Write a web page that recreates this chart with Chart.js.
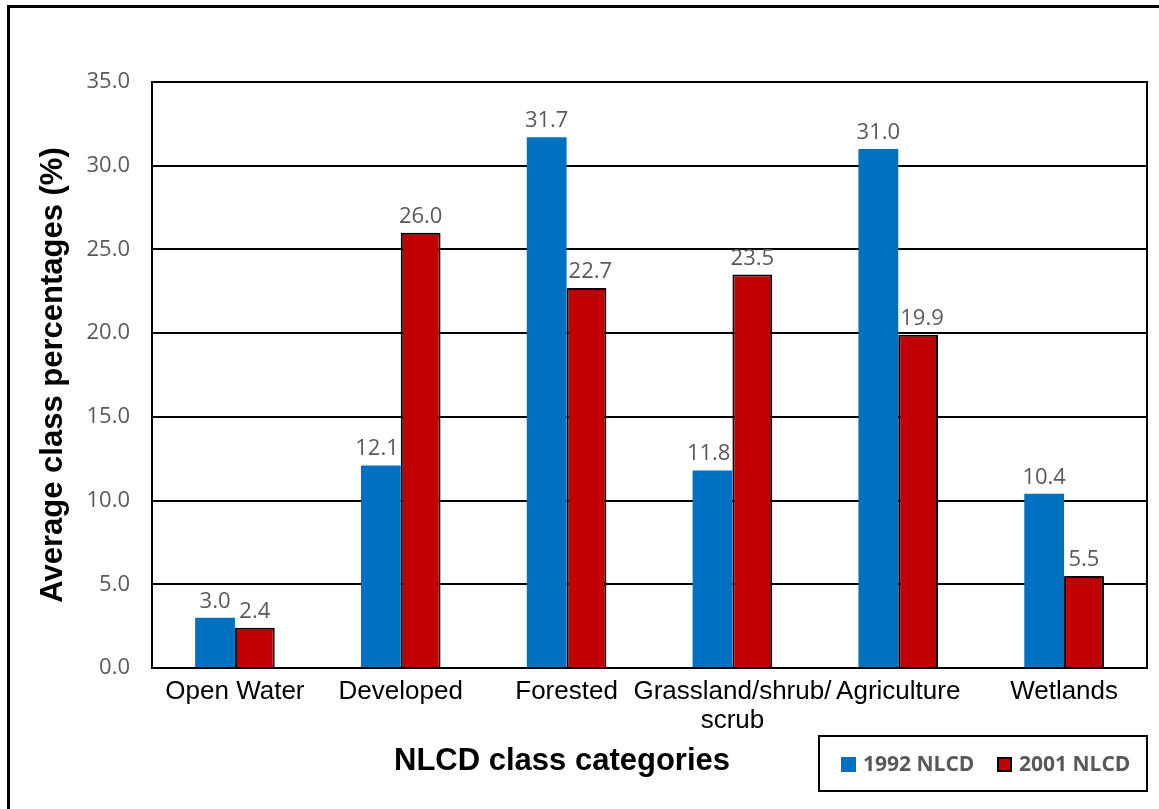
<!DOCTYPE html>
<html lang="en">
<head>
<meta charset="UTF-8">
<title>NLCD class categories</title>
<style>
  body { margin: 0; width: 1159px; height: 809px; overflow: hidden; position: relative; background: #fff; }
  #frame { position: absolute; left: 7px; top: 5px; width: 1300px; height: 1000px; border: 3px solid #000; }
  #wrap { position: absolute; left: 0; top: 0; width: 1159px; height: 809px; }
  #xtitle { position: absolute; left: 0; width: 1124px; top: 742px; line-height: 36px; text-align: center;
            font: bold 31px "Liberation Sans", Arial, sans-serif; color: #000; }
  #legend { position: absolute; left: 818px; top: 735px; width: 330px; height: 57px; box-sizing: border-box;
            border: 2px solid #000; font: bold 21px "Open Sans", sans-serif; color: #595959; }
  .item { position: absolute; top: 0; height: 53px; line-height: 53px; }
  .sw { position: absolute; top: 20px; width: 15px; height: 15px; box-sizing: border-box; }
</style>
</head>
<body>
<script src="https://cdn.jsdelivr.net/npm/chart.js"></script>
<div id="frame"></div>
<div id="wrap"><canvas id="myChart" width="1159" height="809"></canvas></div>
<div id="xtitle">NLCD class categories</div>
<div id="legend">
  <div class="item" style="left:21px"><span class="sw" style="left:0;background:#0070C0"></span><span style="margin-left:22px">1992 NLCD</span></div>
  <div class="item" style="left:177px"><span class="sw" style="left:0;background:#C00000;border:2px solid #000"></span><span style="margin-left:22px">2001 NLCD</span></div>
</div>

<script>
  // data
  const categories = ['Open Water', 'Developed', 'Forested', ['Grassland/shrub/', 'scrub'], 'Agriculture', 'Wetlands'];
  const nlcd1992 = [3.0, 12.1, 31.7, 11.8, 31.0, 10.4];
  const nlcd2001 = [2.4, 26.0, 22.7, 23.5, 19.9, 5.5];
  const yTicks = [0, 5, 10, 15, 20, 25, 30, 35];

  // value labels above bars, nudged sideways if they would hit the neighbour bar
  const valueLabels = {
    id: 'valueLabels',
    afterDatasetsDraw(chart) {
      const c = chart.ctx;
      c.save();
      c.font = '22px "Open Sans", sans-serif';
      c.fillStyle = '#595959';
      c.textAlign = 'center';
      c.textBaseline = 'alphabetic';
      const m0 = chart.getDatasetMeta(0), m1 = chart.getDatasetMeta(1);
      chart.data.datasets.forEach((ds, di) => {
        const meta = chart.getDatasetMeta(di);
        meta.data.forEach((bar, i) => {
          const txt = ds.data[i].toFixed(1);
          const w = c.measureText(txt).width;
          let x = bar.x;
          const y = bar.y - 10;
          if (di === 0) {
            const other = m1.data[i];
            if (other.y < y - 16) x = Math.min(x, other.x - other.width / 2 - 2 - w / 2);
          } else {
            const other = m0.data[i];
            if (other.y < y - 16) x = Math.max(x, other.x + other.width / 2 + 2 + w / 2);
          }
          c.fillText(txt, x, y);
        });
      });
      c.restore();
    }
  };

  // right-hand side of the plot frame
  const plotFrame = {
    id: 'plotFrame',
    afterDraw(chart) {
      const a = chart.chartArea, c = chart.ctx;
      c.save();
      c.strokeStyle = '#000';
      c.lineWidth = 2;
      c.strokeRect(a.left, a.top, a.right - a.left, a.bottom - a.top);
      c.restore();
    }
  };

  const ctx = document.getElementById('myChart').getContext('2d');
  new Chart(ctx, {
    type: 'bar',
    data: {
      labels: categories,
      datasets: [{
        label: '1992 NLCD',
        data: nlcd1992,
        backgroundColor: '#0070C0',
        borderWidth: 0
      }, {
        label: '2001 NLCD',
        data: nlcd2001,
        backgroundColor: '#C00000',
        borderColor: '#000',
        borderWidth: 2
      }]
    },
    options: {
      responsive: false,
      animation: false,
      categoryPercentage: 0.48,
      barPercentage: 1.0,
      layout: { padding: { left: 35, top: 82, right: 12, bottom: 0 } },
      plugins: { legend: { display: false }, tooltip: { enabled: false } },
      scales: {
        x: {
          grid: { display: false, drawTicks: false },
          border: { display: true, color: '#000', width: 2 },
          ticks: {
            color: '#000',
            padding: 10,
            maxRotation: 0,
            autoSkip: false,
            font: { family: '"Liberation Sans", Arial, sans-serif', size: 26, lineHeight: 1.1 }
          },
          afterFit(scale) { scale.height = 141; }
        },
        y: {
          min: 0,
          max: 35,
          afterBuildTicks(scale) { scale.ticks = yTicks.map(v => ({ value: v })); },
          grid: { color: '#000', lineWidth: 2, drawTicks: false },
          border: { display: true, color: '#000', width: 2 },
          ticks: {
            color: '#595959',
            padding: 22,
            font: { family: '"Open Sans", sans-serif', size: 22 },
            callback: v => Number(v).toFixed(1)
          },
          title: {
            display: true,
            text: 'Average class percentages (%)',
            color: '#000',
            padding: 0,
            font: { family: '"Liberation Sans", Arial, sans-serif', size: 31, weight: 'bold' }
          },
          afterFit(scale) { scale.width = 117; }
        }
      }
    },
    plugins: [valueLabels, plotFrame]
  });
</script>
</body>
</html>
